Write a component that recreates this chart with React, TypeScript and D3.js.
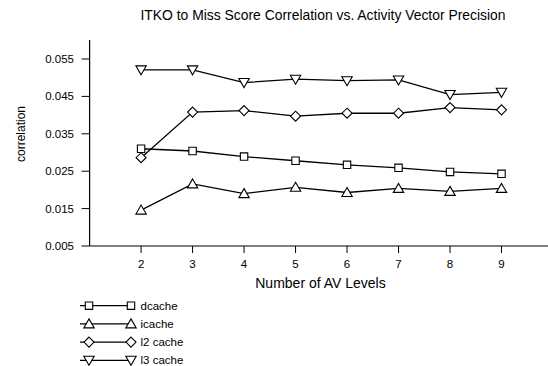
import React from "react";
import * as d3 from "d3";

const levels = [2, 3, 4, 5, 6, 7, 8, 9];
const dcache = [0.0310, 0.0304, 0.0289, 0.0278, 0.0267, 0.0259, 0.0248, 0.0243];
const icache = [0.0146, 0.0216, 0.0190, 0.0207, 0.0193, 0.0204, 0.0196, 0.0204];
const l2cache = [0.0286, 0.0408, 0.0412, 0.0397, 0.0405, 0.0405, 0.0420, 0.0414];
const l3cache = [0.0521, 0.0521, 0.0487, 0.0496, 0.0492, 0.0494, 0.0455, 0.0461];
const yTicks = [0.005, 0.015, 0.025, 0.035, 0.045, 0.055];
const seriesNames = ["dcache", "icache", "l2 cache", "l3 cache"];
const seriesData = [dcache, icache, l2cache, l3cache];
const markerTypes = ["square", "up", "diamond", "down"];

const W = 548;
const H = 366;
const font = "Liberation Sans, Arial, sans-serif";

function Marker({ type, x, y }: { type: string; x: number; y: number }) {
  let d = "";
  if (type === "square") d = `M${x - 3.7},${y - 3.7}h7.4v7.4h-7.4Z`;
  else if (type === "up") d = `M${x},${y - 5}L${x + 5.2},${y + 4}L${x - 5.2},${y + 4}Z`;
  else if (type === "down") d = `M${x},${y + 5}L${x + 5.2},${y - 4}L${x - 5.2},${y - 4}Z`;
  else d = `M${x},${y - 5}L${x + 5},${y}L${x},${y + 5}L${x - 5},${y}Z`;
  return <path d={d} fill="#fff" stroke="#000" strokeWidth={1.1} />;
}

export default function App() {
  const x = d3.scaleLinear().domain([1, 10]).range([89.6, 553]);
  const y = d3.scaleLinear().domain([0.005, 0.055]).range([246, 59]);
  const line = d3
    .line<number>()
    .x((_, i) => x(levels[i]))
    .y((v) => y(v));
  const yTop = y.invert(40);

  return (
    <svg
      width={W}
      height={H}
      style={{ position: "absolute", left: 0, top: 0, background: "#fff" }}
      fontFamily={font}
    >
      <text x={323} y={20} textAnchor="middle" fontSize={13.9} fill="#000">
        ITKO to Miss Score Correlation vs. Activity Vector Precision
      </text>
      {/* y axis */}
      <line x1={x(1)} x2={x(1)} y1={y(yTop)} y2={y(0.005)} stroke="#000" strokeWidth={1.2} />
      {yTicks.map((t) => (
        <g key={t}>
          <line x1={x(1) - 8} x2={x(1)} y1={y(t)} y2={y(t)} stroke="#000" strokeWidth={1} />
          <text x={74} y={y(t) + 4} textAnchor="end" fontSize={11.5} fill="#000">
            {t.toFixed(3)}
          </text>
        </g>
      ))}
      {/* x axis */}
      <line x1={x(1)} x2={W} y1={y(0.005)} y2={y(0.005)} stroke="#000" strokeWidth={1.2} />
      {levels.map((l) => (
        <g key={l}>
          <line x1={x(l)} x2={x(l)} y1={y(0.005)} y2={y(0.005) + 7} stroke="#000" strokeWidth={1} />
          <text x={x(l)} y={268} textAnchor="middle" fontSize={11.5} fill="#000">
            {l}
          </text>
        </g>
      ))}
      <text x={320.5} y={288} textAnchor="middle" fontSize={14} fill="#000">
        Number of AV Levels
      </text>
      <text
        transform={`translate(25,${134}) rotate(-90)`}
        textAnchor="middle"
        fontSize={12}
        fill="#000"
      >
        correlation
      </text>
      {/* series */}
      {seriesData.map((s, si) => (
        <g key={seriesNames[si]}>
          <path d={line(s) || ""} fill="none" stroke="#000" strokeWidth={1.3} />
          {s.map((v, i) => (
            <Marker key={i} type={markerTypes[si]} x={x(levels[i])} y={y(v)} />
          ))}
        </g>
      ))}
      {/* legend */}
      {seriesNames.map((n, i) => {
        const ly = 305.7 + i * 18.2;
        return (
          <g key={n}>
            <line x1={80} x2={131} y1={ly} y2={ly} stroke="#000" strokeWidth={1.2} />
            <Marker type={markerTypes[i]} x={89} y={ly} />
            <Marker type={markerTypes[i]} x={131} y={ly} />
            <text x={140.5} y={ly + 4} fontSize={11.5} fill="#000">
              {n}
            </text>
          </g>
        );
      })}
    </svg>
  );
}
